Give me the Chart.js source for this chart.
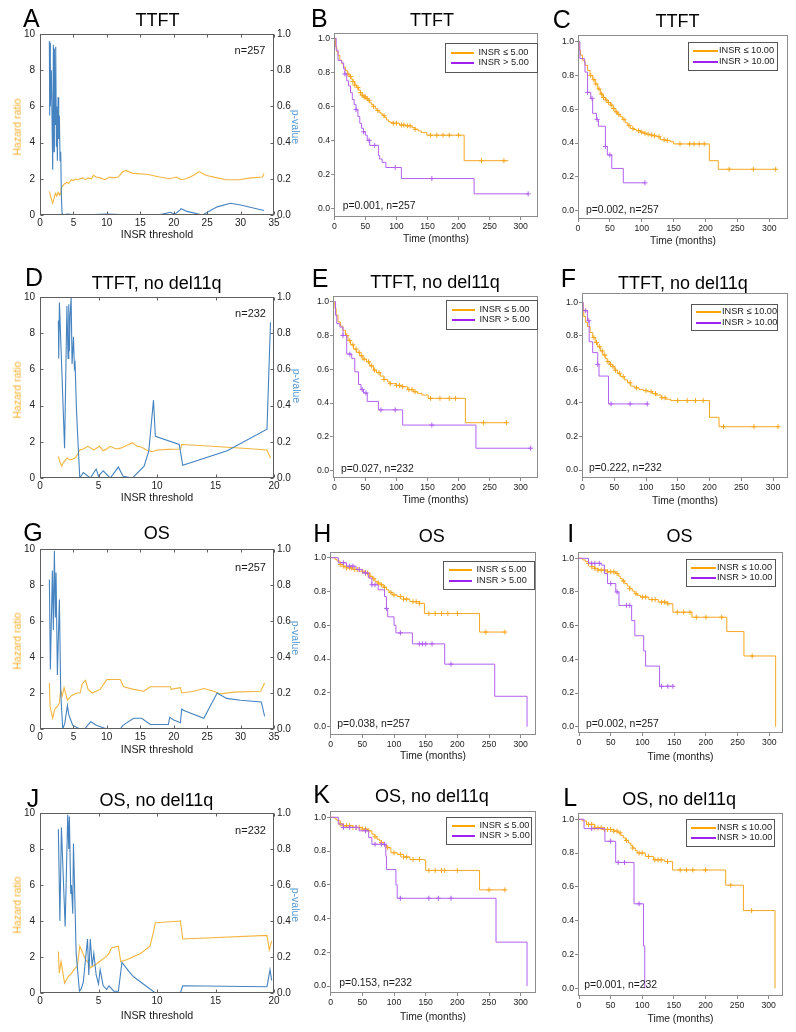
<!DOCTYPE html>
<html><head><meta charset="utf-8">
<script src="https://cdn.jsdelivr.net/npm/chart.js@4.4.1/dist/chart.umd.min.js"></script>
<style>
html,body{margin:0;padding:0;background:#fff}
body{position:relative;width:796px;height:1032px;overflow:hidden;font-family:"Liberation Sans",Arial,sans-serif;color:#1a1a1a}
canvas{position:absolute}
.t{position:absolute;white-space:nowrap}
.lg{position:absolute;box-sizing:border-box;border:1.5px solid #555;background:#fff}
.sw{position:absolute;height:2px}
</style></head><body>
<script>
// ---------------- tick values ----------------
const hrTicks = [0, 2, 4, 6, 8, 10];
const pvTicks = [0, 0.2, 0.4, 0.6, 0.8, 1.0];
const thr35Ticks = [0, 5, 10, 15, 20, 25, 30, 35];
const thr20Ticks = [0, 5, 10, 15, 20];
const kmTimeTicks = [0, 50, 100, 150, 200, 250, 300];
const kmSurvTicks = [0, 0.2, 0.4, 0.6, 0.8, 1.0];

// ---------------- threshold scans: hazard ratio & p-value vs INSR threshold ----------------
const aHrX = [1.4,1.6,1.9,2.1,2.3,2.5,2.7,2.9,3.0,3.1,3.2,3.4,3.6,4.0,4.3,4.7,5.0,5.3,5.6,6.0,6.4,6.8,7.2,7.7,8.0,8.4,9.0,9.7,10.4,11.0,11.7,12.4,12.9,13.9,16,17.9,19.4,20.4,20.9,21.1,21.8,23,23.8,24.8,26.5,27.8,29.8,31.5,33.3,33.5];
const aHr  = [1.3,1.0,0.65,0.9,1.2,1.05,1.25,1.1,1.2,1.15,1.55,1.6,1.7,1.8,1.75,1.95,1.9,2.0,1.95,2.0,2.05,1.95,2.05,2.0,2.2,2.1,2.05,1.95,2.1,2.05,2.1,2.4,2.45,2.3,2.25,2.1,2.0,2.1,2.0,1.95,2.0,2.2,2.4,2.2,2.05,1.95,1.95,2.05,2.1,2.3];
const aPX  = [1.4,1.45,1.5,1.55,1.7,1.9,2.0,2.1,2.15,2.25,2.35,2.45,2.5,2.6,2.7,2.8,2.9,3.0,3.1,3.2,3.3,3.5,4,5,6,8,10,12,14,16,18,19.5,19.8,20.2,21,21.1,22,24.3,26.5,28.5,30,33.5];
const aP   = [0.96,0.55,0.95,0.6,0.8,0.25,0.94,0.35,0.92,0.5,0.93,0.38,0.6,0.3,0.65,0.42,0.55,0.3,0.35,0.1,0.01,0.0,0.005,0.002,0.001,0.003,0.005,0.002,0.001,0.001,0.002,0.015,0.01,0.005,0.03,0.035,0.02,0.0,0.045,0.065,0.055,0.025];

const dHrX = [1.57,1.7,1.86,2.0,2.3,2.6,3.0,3.2,3.4,3.7,4.1,4.6,5.1,5.4,5.7,6.0,6.5,6.9,7.4,7.9,8.3,8.7,9.1,9.6,10.0,11,12.0,12.1,14,16,18,19.4,19.7];
const dHr  = [1.2,0.9,0.65,0.85,1.1,1.0,1.1,1.3,1.55,1.6,1.75,1.55,1.75,1.5,1.6,1.75,1.6,1.65,1.8,1.95,1.75,1.7,1.55,1.45,1.55,1.58,1.6,1.85,1.78,1.7,1.62,1.55,1.1];
const dPX  = [1.57,1.6,1.66,2.1,2.3,2.4,2.46,2.51,2.57,2.66,2.74,2.86,2.94,3.0,3.11,3.2,3.4,3.7,4.3,4.8,5.0,5.4,6.0,6.7,7.1,7.9,8.9,9.3,9.7,9.86,11.9,12.2,16,19.4,19.7];
const dP   = [0.87,0.66,0.97,0.165,0.95,0.66,0.96,0.7,0.89,1.0,0.63,0.78,0.61,0.63,0.39,0.26,0.0,0.03,0.0,0.05,0.01,0.04,0.0,0.06,0.01,0.0,0.065,0.15,0.43,0.23,0.185,0.07,0.15,0.27,0.86];

const gHrX = [1.4,1.5,1.9,2.2,2.6,2.9,3.1,3.3,3.6,4.1,4.7,5.5,6.0,6.3,6.8,7.2,7.8,9.0,10.0,12.0,12.5,14.0,15.5,16.5,19.5,19.6,21.0,21.2,23.0,24.5,26.0,27.0,29.0,33.0,33.6];
const gHr  = [2.55,1.25,0.6,1.1,1.25,1.45,2.2,1.8,2.3,1.6,1.85,2.0,2.0,2.5,2.7,2.2,2.0,2.2,2.75,2.75,2.35,2.2,2.1,2.35,2.35,2.2,2.3,2.0,2.1,2.25,2.1,1.95,2.05,2.1,2.55];
const gPX  = [1.4,1.55,1.85,2.0,2.15,2.3,2.4,2.6,2.9,3.1,3.4,3.7,4.1,4.3,4.6,4.9,6.0,6.7,7.1,7.6,8.5,10.0,12.0,12.4,14.0,15.2,16.5,19.2,19.4,20.0,21.0,21.2,21.7,24.5,26.5,27.9,30.0,33.1,33.6];
const gP   = [0.83,0.33,0.88,0.55,0.99,0.62,0.87,0.3,0.72,0.2,0.0,0.03,0.13,0.08,0.05,0.02,0.0,0.0,0.02,0.04,0.02,0.0,0.0,0.02,0.06,0.06,0.025,0.025,0.065,0.05,0.035,0.11,0.1,0.06,0.2,0.17,0.16,0.15,0.07];

const jHrX = [1.57,1.65,1.8,2.1,2.4,2.7,2.9,3.2,3.4,3.9,4.2,4.3,4.9,5.7,5.9,6.1,6.7,6.9,7.4,8.6,9.4,9.7,9.86,12.0,12.2,19.4,19.6,19.8];
const jHr  = [2.3,1.1,1.75,0.55,0.9,1.1,1.3,1.5,2.6,1.85,1.65,1.4,1.65,2.05,2.2,2.5,2.6,1.75,1.85,2.2,2.6,3.4,3.9,4.0,3.0,3.2,2.4,2.9];
const jPX  = [1.57,1.7,1.83,2.15,2.37,2.46,2.51,2.63,2.69,2.8,2.86,2.97,3.09,3.37,3.5,3.7,4.06,4.17,4.3,4.46,4.6,4.8,5.0,5.14,5.4,5.7,5.9,6.3,6.7,7.0,7.6,8.0,9.86,12.0,12.2,19.4,19.66,19.8];
const jP   = [0.91,0.4,0.92,0.37,0.99,0.8,0.98,0.55,0.6,0.44,0.83,0.55,0.22,0.01,0.02,0.06,0.3,0.1,0.3,0.15,0.22,0.1,0.05,0.13,0.04,0.02,0.04,0.01,0.01,0.17,0.12,0.09,0.0,0.0,0.04,0.035,0.13,0.07];

// ---------------- Kaplan-Meier curves: event times (T), survival after step (S), censor times (C) ----------------
const bLeT = [0,2,4,6,9,12,15,18,21,24,27,30,33,36,39,42,45,48,51,54,57,60,63,66,69,72,75,78,81,84,87,90,95,105,115,125,130,135,140,149,209,280];
const bLeS = [1.0,0.95,0.92,0.90,0.87,0.85,0.83,0.81,0.79,0.775,0.76,0.745,0.725,0.71,0.695,0.68,0.665,0.655,0.645,0.635,0.62,0.61,0.60,0.585,0.575,0.565,0.555,0.545,0.535,0.52,0.51,0.505,0.50,0.49,0.485,0.475,0.465,0.455,0.445,0.43,0.28,0.28];
const bLeC = [22,26,30,33,38,42,45,48,50,53,56,63,70,80,95,100,108,112,118,122,130,155,165,175,185,200,237,273];
const bGtT = [0,3,6,12,15,17,20,23,26,29,32,35,38,41,44,47,50,53,57,71,73,77,83,108,225,312];
const bGtS = [1.0,0.93,0.87,0.855,0.82,0.79,0.75,0.72,0.68,0.64,0.61,0.58,0.54,0.50,0.47,0.45,0.43,0.40,0.37,0.31,0.29,0.27,0.24,0.175,0.085,0.085];
const bGtC = [17,35,47,56,65,98,157,312];

const cLeT = [0,2,4,7,11,15,19,23,27,31,35,39,43,47,51,55,58,62,66,70,74,78,82,87,92,98,103,108,113,118,124,129,137,145,150,206,220,310];
const cLeS = [1.0,0.95,0.92,0.89,0.86,0.83,0.80,0.775,0.75,0.72,0.69,0.67,0.655,0.64,0.625,0.605,0.585,0.57,0.556,0.54,0.52,0.505,0.487,0.48,0.473,0.465,0.458,0.452,0.448,0.443,0.438,0.42,0.415,0.408,0.395,0.296,0.245,0.245];
const cLeC = [20,25,28,33,37,40,44,48,52,56,60,64,72,80,86,95,100,105,110,115,120,127,135,140,160,175,182,190,198,237,275,310];
const cGtT = [0,3,10,11,15,20,23,29,32,43,46,53,71,105];
const cGtS = [1.0,0.90,0.88,0.82,0.70,0.665,0.576,0.54,0.50,0.38,0.33,0.25,0.165,0.165];
const cGtC = [15,22,30,43,50,105];

const eLeT = [0,1,3,6,10,14,18,22,26,31,36,41,46,52,57,63,68,74,80,86,90,100,108,118,127,134,141,151,211,277];
const eLeS = [1.0,0.96,0.92,0.88,0.855,0.83,0.80,0.77,0.745,0.72,0.70,0.68,0.66,0.645,0.62,0.595,0.58,0.56,0.54,0.525,0.515,0.505,0.497,0.48,0.467,0.458,0.448,0.428,0.284,0.284];
const eLeC = [20,25,30,35,40,44,48,55,60,65,72,80,90,100,105,110,120,125,130,155,170,185,195,240,277];
const eGtT = [0,2,4,9,14,20,28,33,39,43,47,53,71,110,228,316];
const eGtS = [1.0,0.92,0.87,0.85,0.80,0.69,0.665,0.585,0.51,0.48,0.46,0.41,0.36,0.27,0.133,0.133];
const eGtC = [14,25,45,51,75,98,157,316];

const fLeT = [0,1,2,5,8,12,16,20,24,28,32,36,39,43,47,51,55,60,66,71,76,82,89,96,103,110,116,124,131,139,200,215,308];
const fLeS = [1.0,0.96,0.915,0.88,0.855,0.82,0.79,0.76,0.735,0.71,0.686,0.665,0.646,0.63,0.616,0.595,0.577,0.557,0.537,0.52,0.50,0.49,0.48,0.473,0.467,0.455,0.447,0.431,0.422,0.414,0.314,0.258,0.258];
const fLeC = [18,22,27,31,35,40,44,48,52,58,64,75,85,100,108,115,125,130,150,165,178,190,222,270,308];
const fGtT = [0,1,8,10.5,16,24,26,41,102];
const fGtS = [1.0,0.95,0.89,0.765,0.70,0.63,0.56,0.394,0.394];
const fGtC = [5,10,24,45,75,102];

const hLeT = [0,7,10,15,20,25,35,50,55,62,66,70,74,78,83,88,92,97,105,115,125,140,148,235,275];
const hLeS = [1.0,0.99,0.98,0.96,0.95,0.94,0.93,0.92,0.91,0.89,0.875,0.86,0.85,0.84,0.825,0.81,0.795,0.78,0.77,0.755,0.74,0.73,0.67,0.56,0.56];
const hLeC = [15,20,25,30,33,38,42,45,50,55,58,62,68,75,80,85,95,100,110,115,120,130,135,140,155,165,175,185,200,245,275];
const hGtT = [0,12,25,40,50,60,65,75,85,88,90,100,103,129,180,259,310];
const hGtS = [1.0,0.97,0.95,0.93,0.91,0.88,0.84,0.81,0.77,0.70,0.65,0.60,0.555,0.49,0.37,0.18,0.0];
const hGtC = [20,30,35,45,55,65,70,88,110,140,145,150,160,190];

const iLeT = [0,6,10,15,20,25,30,45,58,62,65,68,72,76,80,84,88,92,97,110,125,140,148,178,233,260,310];
const iLeS = [1.0,0.99,0.98,0.97,0.95,0.94,0.93,0.92,0.91,0.895,0.88,0.865,0.85,0.835,0.82,0.805,0.79,0.78,0.77,0.755,0.74,0.73,0.68,0.65,0.565,0.42,0.0];
const iLeC = [15,20,25,30,35,40,45,50,55,60,70,80,90,100,105,115,120,130,135,140,155,165,175,185,200,225,273];
const iGtT = [0,15,35,40,45,58,63,83,88,102,105,127,148];
const iGtS = [1.0,0.97,0.96,0.91,0.85,0.80,0.72,0.63,0.54,0.45,0.36,0.24,0.24];
const iGtC = [20,25,32,50,60,75,80,130,140,148];

const kLeT = [0,7,10,15,20,35,50,58,65,69,73,77,80,84,88,95,105,115,125,148,150,235,275];
const kLeS = [1.0,0.99,0.98,0.96,0.95,0.94,0.93,0.92,0.90,0.885,0.87,0.86,0.85,0.835,0.82,0.79,0.78,0.765,0.75,0.745,0.685,0.57,0.57];
const kLeC = [15,20,25,30,35,40,45,50,55,60,70,80,90,100,110,115,120,130,140,155,165,175,180,200,250,275];
const kGtT = [0,12,20,45,60,65,87,88,103,105,261,310];
const kGtS = [1.0,0.96,0.94,0.92,0.88,0.84,0.77,0.69,0.60,0.52,0.26,0.0];
const kGtC = [20,30,40,55,70,80,85,110,155,170,190];

const lLeT = [0,5,12,25,40,55,62,66,70,74,78,82,85,89,92,105,118,135,148,232,260,310];
const lLeS = [1.0,0.99,0.97,0.95,0.94,0.93,0.92,0.905,0.89,0.875,0.86,0.845,0.83,0.815,0.80,0.78,0.76,0.75,0.70,0.61,0.46,0.0];
const lLeC = [15,20,25,30,35,40,45,50,55,60,65,75,85,95,100,110,120,125,130,140,160,170,180,200,240,273];
const lGtT = [0,8,41,58,87,102,104];
const lGtS = [1.0,0.945,0.87,0.745,0.5,0.25,0.0];
const lGtC = [20,50,62,72,95];

// ---------------- styles ----------------
const HR_C = '#f3b53f', P_C = '#4583c0', HR_LBL = '#f5b030', P_LBL = '#5b9bd5';
const AX_C = '#5e5e5e', BOX_C = '#8c8c8c';
const KM_OR = '#f6a722', KM_PU = '#b161f0', LG_OR = '#ffa500', LG_PU = '#a020f0';
const FONT = '"Liberation Sans", Arial, sans-serif';

Chart.defaults.font.family = FONT;
Chart.defaults.color = '#222';
Chart.defaults.animation = false;

function pts(xs, ys) { return xs.map((x, i) => ({x: x, y: ys[i]})); }
function censorPts(ts, ss, cs) {
  return cs.map(c => { let v = ss[0]; for (let i = 0; i < ts.length; i++) if (ts[i] <= c) v = ss[i]; return {x: c, y: v}; });
}

function addText(str, x, y, size, opt) {
  opt = opt || {};
  const d = document.createElement('div');
  d.className = 't';
  d.textContent = str;
  d.style.left = x + 'px'; d.style.top = y + 'px';
  d.style.fontSize = size + 'px'; d.style.lineHeight = size + 'px';
  if (opt.color) d.style.color = opt.color;
  const ax = opt.anchor === 'l' ? '0' : (opt.anchor === 'r' ? '-100%' : '-50%');
  let tr = 'translate(' + ax + ',-50%)';
  if (opt.rot) tr += ' rotate(' + opt.rot + 'deg)';
  d.style.transform = tr;
  document.body.appendChild(d);
}

function framePlugin(color, inward, tl) {
  return {
    id: 'frame',
    afterDraw(chart) {
      const c = chart.ctx, a = chart.chartArea;
      const L = Math.round(a.left) + 0.5, T = Math.round(a.top) + 0.5, R = Math.round(a.right) - 0.5, B = Math.round(a.bottom) - 0.5;
      c.save();
      c.strokeStyle = color; c.lineWidth = 1;
      c.strokeRect(L, T, R - L, B - T);
      if (inward) {
        c.beginPath();
        const xs = chart.scales.x;
        xs.ticks.forEach(tk => { const p = Math.round(xs.getPixelForValue(tk.value)) + 0.5; c.moveTo(p, B); c.lineTo(p, B - tl); c.moveTo(p, T); c.lineTo(p, T + tl); });
        const yl = chart.scales.y;
        yl.ticks.forEach(tk => { const p = Math.round(yl.getPixelForValue(tk.value)) + 0.5; c.moveTo(L, p); c.lineTo(L + tl, p); });
        const yr = chart.scales.y2;
        if (yr) yr.ticks.forEach(tk => { const p = Math.round(yr.getPixelForValue(tk.value)) + 0.5; c.moveTo(R, p); c.lineTo(R - tl, p); });
        c.stroke();
      }
      c.restore();
    }
  };
}

function makeCanvas(left, top, w, h) {
  const cv = document.createElement('canvas');
  cv.width = w; cv.height = h;
  cv.style.left = left + 'px'; cv.style.top = top + 'px';
  cv.style.width = w + 'px'; cv.style.height = h + 'px';
  document.body.appendChild(cv);
  return cv;
}

function setTicks(arr) { return s => { s.ticks = arr.map(v => ({value: v})); }; }

// ---------------- threshold panels ----------------
function thrPanel(cfg) {
  const [l, t, r, b] = cfg.box;
  const PADL = l, PADR = 26, PADT = 10, PADB = 22;
  const W = r + PADR, H = (b - t) + PADT + PADB;
  const cv = makeCanvas(0, t - PADT, W, H);
  new Chart(cv, {
    type: 'line',
    data: { datasets: [
      { data: pts(cfg.pX, cfg.p), yAxisID: 'y2', borderColor: P_C, borderWidth: 1.1, pointRadius: 0, fill: false, tension: 0 },
      { data: pts(cfg.hrX, cfg.hr), yAxisID: 'y', borderColor: HR_C, borderWidth: 1.1, pointRadius: 0, fill: false, tension: 0 }
    ]},
    options: {
      responsive: false, devicePixelRatio: 1, animation: false, events: [],
      layout: { padding: { top: PADT, right: 0, bottom: 0, left: 0 } },
      plugins: { legend: { display: false }, tooltip: { enabled: false } },
      scales: {
        x: { type: 'linear', position: 'bottom', min: 0, max: cfg.xMax, bounds: 'data',
             afterBuildTicks: setTicks(cfg.xTicks),
             afterFit: s => { s.height = PADB; s.paddingLeft = 0; s.paddingRight = 0; },
             grid: { display: false, drawTicks: false }, border: { display: false },
             ticks: { font: { size: 10 }, color: '#222', padding: 2, maxRotation: 0, minRotation: 0, autoSkip: false, callback: v => String(v) } },
        y: { type: 'linear', position: 'left', min: 0, max: 10, bounds: 'data',
             afterBuildTicks: setTicks(hrTicks),
             afterFit: s => { s.width = PADL; s.paddingTop = 0; s.paddingBottom = 0; },
             grid: { display: false, drawTicks: false }, border: { display: false },
             ticks: { font: { size: 10 }, color: '#222', padding: 5, callback: v => String(v) } },
        y2: { type: 'linear', position: 'right', min: 0, max: 1, bounds: 'data',
             afterBuildTicks: setTicks(pvTicks),
             afterFit: s => { s.width = PADR; s.paddingTop = 0; s.paddingBottom = 0; },
             grid: { display: false, drawTicks: false }, border: { display: false },
             ticks: { font: { size: 10 }, color: '#222', padding: 3, callback: v => Number(v).toFixed(1) } }
      }
    },
    plugins: [framePlugin(AX_C, true, 3)]
  });
  addText(cfg.letter, cfg.letterPos[0], cfg.letterPos[1], 25, { anchor: 'l', color: '#000' });
  addText(cfg.title, cfg.titlePos[0], cfg.titlePos[1], 18, { color: '#000' });
  addText(cfg.n, cfg.nPos[0], cfg.nPos[1], 11, { anchor: 'r' });
  addText('INSR threshold', (l + r) / 2, cfg.xLblY, 10.7);
  addText('Hazard ratio', 17, cfg.hrLblY, 10.5, { color: HR_LBL, rot: -90 });
  addText('p-value', cfg.pLbl[0], cfg.pLbl[1], 10.5, { color: P_LBL, rot: 90 });
}

// ---------------- KM panels ----------------
function kmPanel(cfg) {
  const [l, t, r, b] = cfg.box;
  const PADL = 36, PADR = 6, PADT = 6, PADB = 20;
  const W = (r - l) + PADL + PADR, H = (b - t) + PADT + PADB;
  const cv = makeCanvas(l - PADL, t - PADT, W, H);
  const pxX = (cfg.x300 - cfg.x0) / 300, pxY = cfg.y0 - cfg.y1;
  const xmin = (l - cfg.x0) / pxX, xmax = (r - cfg.x0) / pxX;
  const ymin = (cfg.y0 - b) / pxY, ymax = (cfg.y0 - t) / pxY;
  const line = (T, S, col) => ({ data: pts(T, S), stepped: 'before', borderColor: col, borderWidth: 1, pointRadius: 0, fill: false });
  const cens = (T, S, C, col) => ({ data: censorPts(T, S, C), showLine: false, pointStyle: 'cross', pointRadius: 2.5, borderColor: col, borderWidth: 1, pointHoverRadius: 0 });
  new Chart(cv, {
    type: 'line',
    data: { datasets: [
      cens(cfg.gtT, cfg.gtS, cfg.gtC, KM_PU), line(cfg.gtT, cfg.gtS, KM_PU),
      cens(cfg.leT, cfg.leS, cfg.leC, KM_OR), line(cfg.leT, cfg.leS, KM_OR)
    ]},
    options: {
      responsive: false, devicePixelRatio: 1, animation: false, events: [],
      layout: { padding: { top: PADT, right: PADR, bottom: 0, left: 0 } },
      plugins: { legend: { display: false }, tooltip: { enabled: false } },
      scales: {
        x: { type: 'linear', position: 'bottom', min: xmin, max: xmax, bounds: 'data',
             afterBuildTicks: setTicks(kmTimeTicks),
             afterFit: s => { s.height = PADB; s.paddingLeft = 0; s.paddingRight = 0; },
             grid: { drawOnChartArea: false, drawTicks: true, tickLength: 3, color: BOX_C, lineWidth: 1 }, border: { display: false },
             ticks: { font: { size: 8.7 }, color: '#222', padding: 1, maxRotation: 0, minRotation: 0, autoSkip: false, callback: v => String(v) } },
        y: { type: 'linear', position: 'left', min: ymin, max: ymax, bounds: 'data',
             afterBuildTicks: setTicks(kmSurvTicks),
             afterFit: s => { s.width = PADL; s.paddingTop = 0; s.paddingBottom = 0; },
             grid: { drawOnChartArea: false, drawTicks: true, tickLength: 3, color: BOX_C, lineWidth: 1 }, border: { display: false },
             ticks: { font: { size: 8.7 }, color: '#222', padding: 1, callback: v => Number(v).toFixed(1) } }
      }
    },
    plugins: [framePlugin(BOX_C, false, 0)]
  });
  addText(cfg.letter, cfg.letterPos[0], cfg.letterPos[1], 25, { anchor: 'l', color: '#000' });
  addText(cfg.title, cfg.titlePos[0], cfg.titlePos[1], 18, { color: '#000' });
  addText(cfg.pText, cfg.pPos[0], cfg.pPos[1], 10.4, { anchor: 'l' });
  addText('Time (months)', (l + r) / 2, cfg.xLblY, 10.3);
  // legend
  const [gl, gt, gr, gb] = cfg.lg;
  const box = document.createElement('div');
  box.className = 'lg';
  box.style.left = gl + 'px'; box.style.top = gt + 'px';
  box.style.width = (gr - gl) + 'px'; box.style.height = (gb - gt) + 'px';
  document.body.appendChild(box);
  const wide = cfg.cut === '10.00';
  const s0 = wide ? 5 : 6, s1 = wide ? 30 : 29, tx = wide ? 31 : 33.5;
  const cy = (gt + gb) / 2;
  const rows = [['INSR \u2264 ' + cfg.cut, LG_OR, cy - 5.2], ['INSR > ' + cfg.cut, LG_PU, cy + 5.2]];
  rows.forEach(([txt, col, y]) => {
    const sw = document.createElement('div');
    sw.className = 'sw';
    sw.style.left = Math.round(gl + s0) + 'px'; sw.style.width = Math.round(s1 - s0) + 'px';
    sw.style.top = Math.round(y - 1) + 'px'; sw.style.background = col;
    document.body.appendChild(sw);
    addText(txt, gl + tx, y, 9.2, { anchor: 'l' });
  });
}

// ---------------- panel layout ----------------
thrPanel({ letter: 'A', letterPos: [23, 17.5], title: 'TTFT', titlePos: [157.5, 19.7], box: [40, 34, 274, 215], xMax: 35, xTicks: thr35Ticks,
  hrX: aHrX, hr: aHr, pX: aPX, p: aP, n: 'n=257', nPos: [265.5, 50], xLblY: 233.5, hrLblY: 126.5, pLbl: [296, 126.7] });
thrPanel({ letter: 'D', letterPos: [25, 276.7], title: 'TTFT, no del11q', titlePos: [156.7, 282.7], box: [40, 297, 274, 478], xMax: 20, xTicks: thr20Ticks,
  hrX: dHrX, hr: dHr, pX: dPX, p: dP, n: 'n=232', nPos: [266, 313.3], xLblY: 497, hrLblY: 390, pLbl: [297, 386] });
thrPanel({ letter: 'G', letterPos: [23.3, 531.7], title: 'OS', titlePos: [156.7, 533.3], box: [40, 549, 274, 729], xMax: 35, xTicks: thr35Ticks,
  hrX: gHrX, hr: gHr, pX: gPX, p: gP, n: 'n=257', nPos: [266, 566.7], xLblY: 749.3, hrLblY: 641, pLbl: [295.5, 638.3] });
thrPanel({ letter: 'J', letterPos: [26.7, 797.5], title: 'OS, no del11q', titlePos: [156.3, 800.3], box: [40, 813, 274, 993], xMax: 20, xTicks: thr20Ticks,
  hrX: jHrX, hr: jHr, pX: jPX, p: jP, n: 'n=232', nPos: [266, 830], xLblY: 1015, hrLblY: 905, pLbl: [296.3, 905] });

kmPanel({ letter: 'B', letterPos: [311, 18.3], title: 'TTFT', titlePos: [432, 19.7], box: [334, 33, 538, 217], x0: 334.3, x300: 520.7, y1: 38.3, y0: 208.3,
  leT: bLeT, leS: bLeS, leC: bLeC, gtT: bGtT, gtS: bGtS, gtC: bGtC, cut: '5.00', lg: [445, 43, 538, 73], pText: 'p=0.001, n=257', pPos: [342.7, 206.2], xLblY: 239 });
kmPanel({ letter: 'C', letterPos: [552.7, 18.8], title: 'TTFT', titlePos: [677.5, 21.2], box: [578, 35, 788, 219], x0: 578, x300: 769.3, y1: 41.7, y0: 210.7,
  leT: cLeT, leS: cLeS, leC: cLeC, gtT: cGtT, gtS: cGtS, gtC: cGtC, cut: '10.00', lg: [688, 42, 778, 71], pText: 'p=0.002, n=257', pPos: [586, 210], xLblY: 241 });
kmPanel({ letter: 'E', letterPos: [311.7, 278.3], title: 'TTFT, no del11q', titlePos: [435, 282.2], box: [333, 296, 538, 478], x0: 334.3, x300: 520.7, y1: 301.7, y0: 470.7,
  leT: eLeT, leS: eLeS, leC: eLeC, gtT: eGtT, gtS: eGtS, gtC: eGtC, cut: '5.00', lg: [446, 300, 538, 330], pText: 'p=0.027, n=232', pPos: [341, 469], xLblY: 500 });
kmPanel({ letter: 'F', letterPos: [560.7, 278.3], title: 'TTFT, no del11q', titlePos: [682.8, 282.5], box: [582, 293, 788, 478], x0: 582.5, x300: 773, y1: 302.3, y0: 470,
  leT: fLeT, leS: fLeS, leC: fLeC, gtT: fGtT, gtS: fGtS, gtC: fGtC, cut: '10.00', lg: [691, 304, 778, 331], pText: 'p=0.222, n=232', pPos: [589, 468], xLblY: 500.5 });
kmPanel({ letter: 'H', letterPos: [313.3, 533.3], title: 'OS', titlePos: [431.7, 535.5], box: [330, 552, 536, 735], x0: 330.7, x300: 520.7, y1: 557.7, y0: 726.7,
  leT: hLeT, leS: hLeS, leC: hLeC, gtT: hGtT, gtS: hGtS, gtC: hGtC, cut: '5.00', lg: [443, 561, 535, 590], pText: 'p=0.038, n=257', pPos: [337.3, 724], xLblY: 756 });
kmPanel({ letter: 'I', letterPos: [567.3, 533.3], title: 'OS', titlePos: [679.5, 535.5], box: [578, 552, 783, 733], x0: 579, x300: 769.3, y1: 558.3, y0: 726.7,
  leT: iLeT, leS: iLeS, leC: iLeC, gtT: iGtT, gtS: iGtS, gtC: iGtC, cut: '10.00', lg: [686, 559, 776, 587], pText: 'p=0.002, n=257', pPos: [586, 724.3], xLblY: 756.5 });
kmPanel({ letter: 'K', letterPos: [313.3, 794], title: 'OS, no del11q', titlePos: [431.8, 796], box: [330, 811, 536, 993], x0: 330.7, x300: 520.7, y1: 817.3, y0: 986,
  leT: kLeT, leS: kLeS, leC: kLeC, gtT: kGtT, gtS: kGtS, gtC: kGtC, cut: '5.00', lg: [446, 817, 532, 845], pText: 'p=0.153, n=232', pPos: [339.3, 983.3], xLblY: 1016.7 });
kmPanel({ letter: 'L', letterPos: [563.3, 796.7], title: 'OS, no del11q', titlePos: [679.2, 799.3], box: [578, 813, 783, 996], x0: 579, x300: 768.7, y1: 819.3, y0: 988.3,
  leT: lLeT, leS: lLeS, leC: lLeC, gtT: lGtT, gtS: lGtS, gtC: lGtC, cut: '10.00', lg: [686, 819, 775, 847], pText: 'p=0.001, n=232', pPos: [584.3, 985.3], xLblY: 1019 });
</script>
</body></html>
